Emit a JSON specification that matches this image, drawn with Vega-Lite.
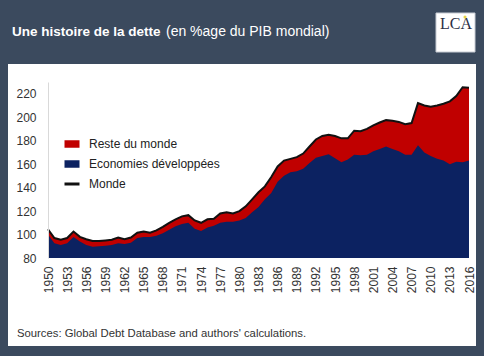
{
  "$schema": "https://vega.github.io/schema/vega-lite/v6.json",
  "width": 421,
  "height": 176,
  "autosize": {"type": "none"},
  "padding": {"left": 48, "top": 82, "right": 15, "bottom": 98},
  "background": "#3b4a5e",
  "config": {"view": {"stroke": null, "fill": null}, "font": "Liberation Sans", "axis": {"labelOverlap": false, "labelSeparation": 0}},
  "data": {"values": [
    {"year": 1950, "monde": 104.5, "dev": 100},
    {"year": 1951, "monde": 97, "dev": 92.5},
    {"year": 1952, "monde": 95.5, "dev": 91},
    {"year": 1953, "monde": 97, "dev": 92.5},
    {"year": 1954, "monde": 102.5, "dev": 98},
    {"year": 1955, "monde": 98, "dev": 94},
    {"year": 1956, "monde": 96, "dev": 91},
    {"year": 1957, "monde": 94.5, "dev": 89.5},
    {"year": 1958, "monde": 94.5, "dev": 90},
    {"year": 1959, "monde": 95, "dev": 90.5},
    {"year": 1960, "monde": 95.5, "dev": 91},
    {"year": 1961, "monde": 97.5, "dev": 92.5},
    {"year": 1962, "monde": 96, "dev": 92},
    {"year": 1963, "monde": 97.5, "dev": 93},
    {"year": 1964, "monde": 101.5, "dev": 97},
    {"year": 1965, "monde": 102.5, "dev": 98},
    {"year": 1966, "monde": 101.5, "dev": 98},
    {"year": 1967, "monde": 103.5, "dev": 99},
    {"year": 1968, "monde": 106.5, "dev": 101},
    {"year": 1969, "monde": 110, "dev": 104},
    {"year": 1970, "monde": 113, "dev": 107},
    {"year": 1971, "monde": 115.5, "dev": 109},
    {"year": 1972, "monde": 116.5, "dev": 110},
    {"year": 1973, "monde": 112, "dev": 105},
    {"year": 1974, "monde": 110, "dev": 103},
    {"year": 1975, "monde": 113, "dev": 106},
    {"year": 1976, "monde": 113.5, "dev": 107.5},
    {"year": 1977, "monde": 118, "dev": 110},
    {"year": 1978, "monde": 119, "dev": 111},
    {"year": 1979, "monde": 118, "dev": 111},
    {"year": 1980, "monde": 120, "dev": 112},
    {"year": 1981, "monde": 124, "dev": 114},
    {"year": 1982, "monde": 130, "dev": 119},
    {"year": 1983, "monde": 136, "dev": 123.5},
    {"year": 1984, "monde": 141, "dev": 130},
    {"year": 1985, "monde": 149, "dev": 135.5},
    {"year": 1986, "monde": 158, "dev": 145},
    {"year": 1987, "monde": 163, "dev": 150},
    {"year": 1988, "monde": 164.5, "dev": 153},
    {"year": 1989, "monde": 166, "dev": 154},
    {"year": 1990, "monde": 169, "dev": 156},
    {"year": 1991, "monde": 175, "dev": 161},
    {"year": 1992, "monde": 181, "dev": 165.5},
    {"year": 1993, "monde": 184, "dev": 167},
    {"year": 1994, "monde": 185, "dev": 168.5},
    {"year": 1995, "monde": 184, "dev": 165},
    {"year": 1996, "monde": 182, "dev": 161.5},
    {"year": 1997, "monde": 182, "dev": 164},
    {"year": 1998, "monde": 188.5, "dev": 168},
    {"year": 1999, "monde": 188, "dev": 167.5},
    {"year": 2000, "monde": 190, "dev": 168},
    {"year": 2001, "monde": 193, "dev": 171},
    {"year": 2002, "monde": 195.5, "dev": 173},
    {"year": 2003, "monde": 197.5, "dev": 175},
    {"year": 2004, "monde": 197, "dev": 173},
    {"year": 2005, "monde": 196, "dev": 171},
    {"year": 2006, "monde": 194, "dev": 168},
    {"year": 2007, "monde": 195, "dev": 168},
    {"year": 2008, "monde": 212, "dev": 176},
    {"year": 2009, "monde": 210, "dev": 170},
    {"year": 2010, "monde": 209, "dev": 167},
    {"year": 2011, "monde": 210, "dev": 164.5},
    {"year": 2012, "monde": 211.5, "dev": 163},
    {"year": 2013, "monde": 213.5, "dev": 160},
    {"year": 2014, "monde": 218, "dev": 162},
    {"year": 2015, "monde": 225.5, "dev": 161.5},
    {"year": 2016, "monde": 225, "dev": 163}
  ]},
  "encoding": {
    "x": {"field": "year", "type": "quantitative", "scale": {"domain": [1950, 2016], "nice": false, "zero": false},
      "axis": {"values": [1950,1953,1956,1959,1962,1965,1968,1971,1974,1977,1980,1983,1986,1989,1992,1995,1998,2001,2004,2007,2010,2013,2016],
        "format": "d", "labelAngle": 270, "labelFontSize": 12, "labelColor": "#333333", "ticks": false, "tickSize": 0, "labelPadding": 8, "domain": false, "grid": false, "title": null, "zindex": 1, "labelFlush": false, "labelOverlap": false}},
    "y": {"field": "monde", "type": "quantitative", "scale": {"domain": [80, 230], "nice": false, "zero": false},
      "axis": {"values": [80,100,120,140,160,180,200,220], "labelFontSize": 12, "labelColor": "#333333", "ticks": false, "tickSize": 0, "labelPadding": 12, "domain": true, "domainColor": "#d9d9d9", "grid": false, "title": null, "zindex": 1, "labelOverlap": false}}
  },
  "layer": [
    {
      "data": {"values": [{}]},
      "mark": {"type": "rect", "fill": "#ffffff"},
      "encoding": {"x": {"value": -40}, "x2": {"value": 428}, "y": {"value": -18}, "y2": {"value": 264}}
    },
    {
      "data": {"values": [{}]},
      "mark": {"type": "rect", "fill": "#ffffff", "stroke": "#c8ccd4", "strokeWidth": 1},
      "encoding": {"x": {"value": 388}, "x2": {"value": 427}, "y": {"value": -69}, "y2": {"value": -30}}
    },
    {
      "data": {"values": [{}]},
      "mark": {"type": "text", "text": "LCA", "font": "Liberation Serif", "fontSize": 16, "color": "#2b2f45", "align": "center", "baseline": "alphabetic"},
      "encoding": {"x": {"value": 408}, "y": {"value": -53}}
    },
    {
      "data": {"values": [{}]},
      "mark": {"type": "point", "filled": true, "size": 10, "color": "#e6d64a", "opacity": 1},
      "encoding": {"x": {"value": 417}, "y": {"value": -65}}
    },
    {
      "data": {"values": [{}]},
      "mark": {"type": "text", "text": "Une histoire de la dette", "fontSize": 13.5, "fontWeight": "bold", "color": "#ffffff", "align": "left", "baseline": "middle"},
      "encoding": {"x": {"value": -36}, "y": {"value": -50}}
    },
    {
      "data": {"values": [{}]},
      "mark": {"type": "text", "text": "(en %age du PIB mondial)", "fontSize": 14, "color": "#ffffff", "align": "left", "baseline": "middle"},
      "encoding": {"x": {"value": 118}, "y": {"value": -50}}
    },
    {
      "data": {"values": [{}]},
      "mark": {"type": "text", "text": "Sources: Global Debt Database and authors' calculations.", "fontSize": 11.3, "color": "#333333", "align": "left", "baseline": "middle"},
      "encoding": {"x": {"value": -31}, "y": {"value": 252}}
    },
    {
      "mark": {"type": "area", "line": false},
      "encoding": {
        "y2": {"datum": 80},
        "color": {"datum": "Reste du monde", "type": "nominal",
          "scale": {"domain": ["Reste du monde", "Economies développées", "Monde"], "range": ["#c00000", "#0c2261", "#111111"]},
          "legend": {"orient": "none", "legendX": 18, "legendY": 56, "title": null, "padding": 0, "symbolSize": 225, "rowPadding": 8, "labelFontSize": 12, "labelColor": "#222222", "labelOffset": 11, "zindex": 2,
            "encode": {"symbols": {"update": {
              "shape": {"signal": "datum.value === 'Monde' ? 'M-1,0H1' : 'M-1,-0.5H1V0.5H-1Z'"},
              "fill": {"signal": "datum.value === 'Monde' ? 'transparent' : (datum.value === 'Reste du monde' ? '#c00000' : '#0c2261')"},
              "stroke": {"signal": "datum.value === 'Monde' ? '#111111' : 'transparent'"},
              "strokeWidth": {"signal": "datum.value === 'Monde' ? 3 : 0"},
              "opacity": {"value": 1}, "fillOpacity": {"value": 1}, "strokeOpacity": {"value": 1}
            }}}}}
      }
    },
    {
      "mark": {"type": "area", "line": false},
      "encoding": {
        "y": {"field": "dev", "type": "quantitative"},
        "y2": {"datum": 80},
        "color": {"datum": "Economies développées", "type": "nominal"}
      }
    },
    {
      "mark": {"type": "line", "strokeWidth": 2},
      "encoding": {
        "color": {"datum": "Monde", "type": "nominal"}
      }
    },
    {
      "data": {"values": [{}]},
      "mark": {"type": "rule", "color": "#d9d9d9", "strokeWidth": 1},
      "encoding": {"x": {"datum": 1950}, "x2": {"datum": 2016}, "y": {"datum": 230}}
    }
  ]
}
